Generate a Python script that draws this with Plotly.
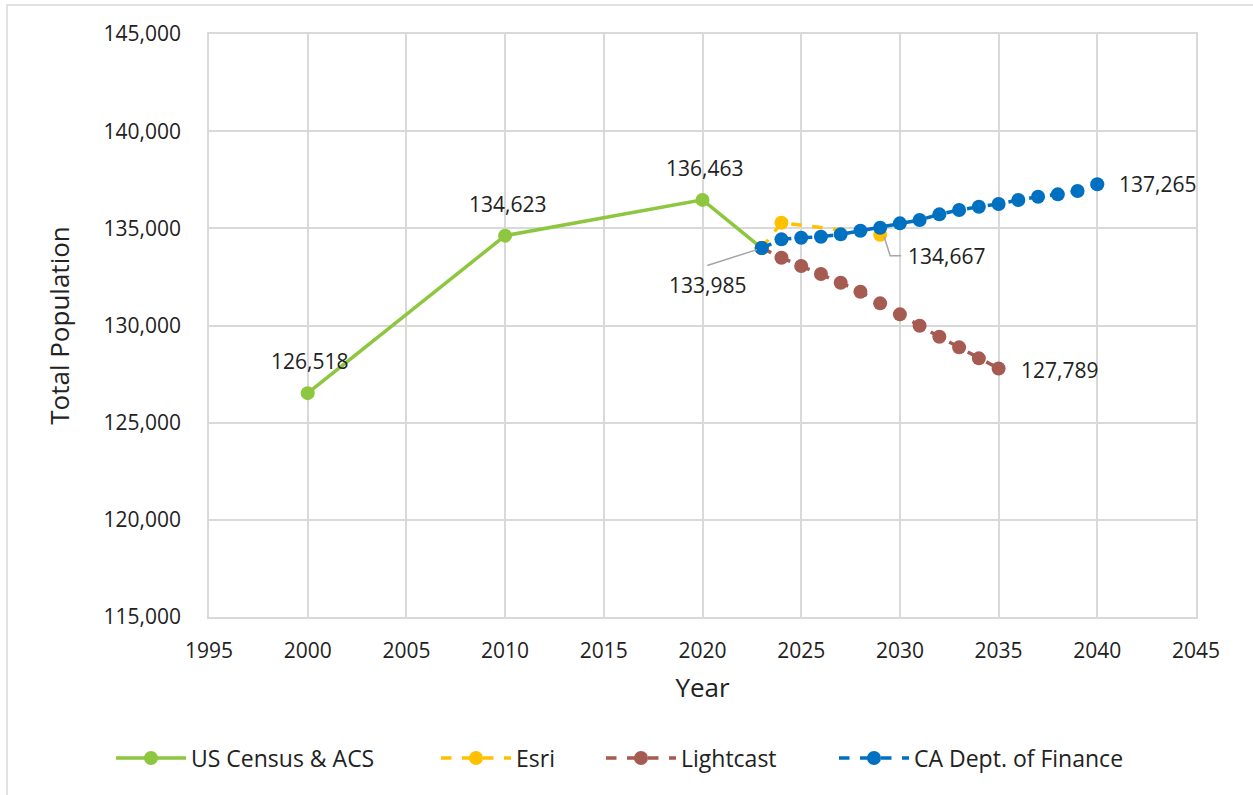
import plotly.graph_objects as go

# ---- data ----
census_years = [2000, 2010, 2020, 2023]
census_vals = [126518, 134623, 136463, 133985]

esri_years = [2023, 2024, 2029]
esri_vals = [133985, 135288, 134667]

light_years = list(range(2023, 2036))
light_vals = [133985, 133487, 133060, 132648, 132200, 131737, 131140,
              130574, 129987, 129421, 128875, 128309, 127789]

dof_years = list(range(2023, 2041))
dof_vals = [133985, 134434, 134517, 134568, 134691, 134877, 135031,
            135257, 135427, 135720, 135942, 136112, 136251, 136457,
            136627, 136750, 136920, 137265]

x_ticks = list(range(1995, 2046, 5))
y_ticks = list(range(115000, 145001, 5000))

GREEN = "#8DC63F"
YELLOW = "#FFC000"
BROWN = "#A55A52"
BLUE = "#0070C0"
GRID = "#D9D9D9"
TXT = "#222222"
FONT = "Open Sans"

# plot-area geometry (pixels) used for paper-coordinate placement
PL, PR, PT, PB = 209, 1196, 34, 617
def px_x(p):
    return (p - PL) / (PR - PL)
def px_y(p):
    return (PB - p) / (PB - PT)

series = [
    ("US Census & ACS", census_years, census_vals, GREEN, "solid", "legend", 117),
    ("Esri", esri_years, esri_vals, YELLOW, "dash", "legend2", 442),
    ("Lightcast", light_years, light_vals, BROWN, "dash", "legend3", 607),
    ("CA Dept. of Finance", dof_years, dof_vals, BLUE, "dash", "legend4", 840),
]

fig = go.Figure()
for name, xs, ys, col, dash, lg, _ in series:
    fig.add_trace(go.Scatter(x=xs, y=ys, name=name, mode="lines+markers",
                             line=dict(color=col, width=3.5, dash=dash),
                             marker=dict(color=col, size=14), legend=lg))

lab_font = dict(family=FONT, size=21, color=TXT)

def fmt(v):
    return f"{v:,}"

# labels above census points
for xv, yv in zip(census_years[:3], census_vals[:3]):
    fig.add_annotation(x=xv, y=yv, text=fmt(yv), showarrow=False,
                       yshift=32, xshift=2, font=lab_font)

# 133,985 with leader
fig.add_annotation(x=census_years[3], y=census_vals[3], text="", showarrow=True,
                   arrowhead=0, arrowwidth=1.5, arrowcolor="#A6A6A6",
                   ax=-56, ay=18, standoff=5)
fig.add_annotation(x=census_years[3], y=census_vals[3], text=fmt(census_vals[3]),
                   showarrow=False, xshift=-54, yshift=-37, font=lab_font)

# 134,667 with elbow leader
fig.add_shape(type="path", xref="x", yref="y", xsizemode="pixel", ysizemode="pixel",
              xanchor=esri_years[-1], yanchor=esri_vals[-1],
              path="M 4,-2 L 10,-21 L 21,-21",
              line=dict(color="#A6A6A6", width=1.5))
fig.add_annotation(x=esri_years[-1], y=esri_vals[-1], text=fmt(esri_vals[-1]),
                   showarrow=False, xanchor="left", xshift=26, yshift=-21, font=lab_font)

# end labels
fig.add_annotation(x=light_years[-1], y=light_vals[-1], text=fmt(light_vals[-1]),
                   showarrow=False, xanchor="left", xshift=20, yshift=-2, font=lab_font)
fig.add_annotation(x=dof_years[-1], y=dof_vals[-1], text=fmt(dof_vals[-1]),
                   showarrow=False, xanchor="left", xshift=20, yshift=0, font=lab_font)

# outer chart border
fig.add_shape(type="rect", xref="paper", yref="paper",
              x0=px_x(7), x1=1.08, y0=-0.35, y1=px_y(5),
              line=dict(color=GRID, width=1.5), layer="below")

axis_common = dict(showgrid=True, gridcolor=GRID, gridwidth=1.5,
                   showline=True, linecolor=GRID, linewidth=1.5, mirror=True,
                   zeroline=False, ticks="", tickfont=dict(family=FONT, size=21, color=TXT),
                   title_font=dict(family=FONT, size=26, color=TXT))

fig.update_xaxes(range=[1995, 2045], tickvals=x_ticks, ticktext=[str(t) for t in x_ticks],
                 ticklabelstandoff=14,
                 title_text="Year", title_standoff=16, **axis_common)
fig.update_yaxes(range=[115000, 145000], tickvals=y_ticks,
                 ticktext=[f"{t:,}" for t in y_ticks], ticklabelstandoff=22,
                 title_text="Total Population", title_standoff=26, **axis_common)

legend_font = dict(family=FONT, size=23, color=TXT)
layout_legends = {}
for i, (_, _, _, _, _, lg, lx) in enumerate(series):
    layout_legends[lg] = dict(orientation="h", x=px_x(lx - 6), xanchor="left",
                              y=px_y(758), yanchor="middle", font=legend_font,
                              itemwidth=70, bgcolor="rgba(0,0,0,0)")

fig.update_layout(
    width=1253, height=795,
    margin=dict(l=PL, r=1253 - PR, t=PT, b=795 - PB),
    paper_bgcolor="white", plot_bgcolor="white",
    font=dict(family=FONT, color=TXT),
    showlegend=True,
    **layout_legends,
)

fig.write_html("out.html", config={"displayModeBar": False},
               post_script="document.body.style.margin='0';")
